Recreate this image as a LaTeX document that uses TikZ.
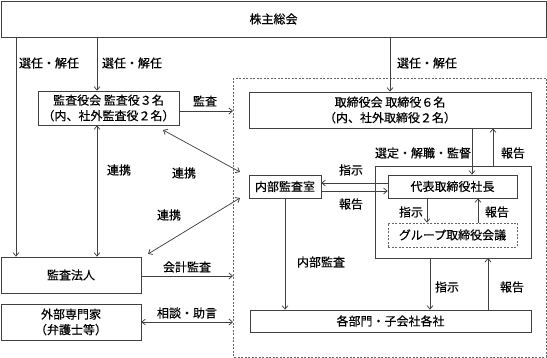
\documentclass[tikz,border=0pt]{standalone}
\usepackage{fontspec}
\setmainfont[FakeBold=0.35]{Noto Sans CJK JP}
\usetikzlibrary{arrows.meta}
\newcommand\fsz{\fontsize{12}{15.5}\selectfont}
\begin{document}
\begin{tikzpicture}[x=1pt,y=-1pt,
  lc/.style={draw=black!75, line width=0.75pt},
  box/.style={lc, align=center, inner sep=0pt, font=\fsz},
  dbox/.style={draw=black!60, line width=0.75pt, dash pattern=on 2pt off 1.5pt},
  lbl/.style={inner sep=0pt, font=\fsz},
  arr/.style={lc, -{Straight Barb[length=3.5pt,width=6pt]}},
  darr/.style={lc, {Straight Barb[length=3.5pt,width=6pt]}-{Straight Barb[length=3.5pt,width=6pt]}}]
\useasboundingbox (0,0) rectangle (547,358);
% outer dotted frame
\draw[dbox] (233,78) rectangle (546,357);
% boxes
\node[box, minimum width=545, minimum height=36] (kabu) at (273.5,19) {株主総会};
\node[box, minimum width=141, minimum height=34] (kansa) at (108.5,108) {監査役会\ 監査役３名\\（内、社外監査役２名）};
\node[box, minimum width=282, minimum height=36] (tori) at (390,110) {取締役会\ 取締役６名\\（内、社外取締役２名）};
\draw[lc] (375,166) rectangle (531,258);
\coordinate (bigtop) at (493,166);
\coordinate (bigbot) at (430,258);
\coordinate (bigbot2) at (488,258);
\node[box, minimum width=72, minimum height=23] (naibu) at (285,186.5) {内部監査室};
\node[box, minimum width=129, minimum height=23] (daihyo) at (452.5,186.5) {代表取締役社長};
\node[box, dbox, minimum width=129, minimum height=24] (group) at (452.5,235) {グループ取締役会議};
\node[box, minimum width=281, minimum height=22] (kakubu) at (390.5,321) {各部門・子会社各社};
\node[box, minimum width=140, minimum height=36] (hojin) at (71,275) {監査法人};
\node[box, minimum width=140, minimum height=36] (gaibu) at (71,322) {外部専門家\\（弁護士等）};
% helper coordinates
\coordinate (x16) at (16,0);
\coordinate (x97) at (97,0);
\coordinate (x472) at (472,0);
\coordinate (x427) at (427,0);
\coordinate (x478) at (478,0);
\coordinate (y183) at (0,183);
\coordinate (y191) at (0,191);
\coordinate (fL1) at (233,111);
\coordinate (fL2) at (233,276);
\coordinate (fL3) at (233,322);
\coordinate (d1a) at (163,130);
\coordinate (d1b) at (240,172);
\coordinate (d2a) at (148,254);
\coordinate (d2b) at (240,198);
% connectors
\draw[arr] (kabu.south -| x16) -- (hojin.north -| x16);
\draw[arr] (kabu.south -| x97) -- (kansa.north -| x97);
\draw[arr] (kabu.south -| tori.north) -- (tori.north);
\draw[darr] (kansa.south -| x97) -- (hojin.north -| x97);
\draw[arr] (kansa.east |- fL1) -- (fL1);
\draw[arr] (hojin.east |- fL2) -- (fL2);
\draw[darr] (gaibu.east |- fL3) -- (fL3);
\draw[darr] (d1a) -- (d1b);
\draw[darr] (d2a) -- (d2b);
\draw[arr] (tori.south -| x472) -- (daihyo.north -| x472);
\draw[arr] (bigtop) -- (tori.south -| bigtop);
\draw[arr] (daihyo.west |- y183) -- (naibu.east |- y183);
\draw[arr] (naibu.east |- y191) -- (daihyo.west |- y191);
\draw[arr] (daihyo.south -| x427) -- (group.north -| x427);
\draw[arr] (group.north -| x478) -- (daihyo.south -| x478);
\draw[arr] (naibu.south) -- (kakubu.north -| naibu.south);
\draw[arr] (bigbot) -- (kakubu.north -| bigbot);
\draw[arr] (kakubu.north -| bigbot2) -- (bigbot2);
% labels
\node[lbl] (t1) at (49,63) {選任・解任};
\node[lbl] (t2) at (132,63) {選任・解任};
\node[lbl] (t3) at (427,63) {選任・解任};
\node[lbl] (t4) at (205,101) {監査};
\node[lbl] (t5) at (119,170) {連携};
\node[lbl] (t6) at (184,173) {連携};
\node[lbl] (t7) at (169,215) {連携};
\node[lbl] (t8) at (187,267) {会計監査};
\node[lbl] (t9) at (187,313) {相談・助言};
\node[lbl] (t10) at (423,153) {選定・解職・監督};
\node[lbl] (t11) at (513,153) {報告};
\node[lbl] (t12) at (351,170) {指示};
\node[lbl] (t13) at (351,204) {報告};
\node[lbl] (t14) at (411,212) {指示};
\node[lbl] (t15) at (497,212) {報告};
\node[lbl] (t16) at (321,262) {内部監査};
\node[lbl] (t17) at (447,287) {指示};
\node[lbl] (t18) at (512,287) {報告};
\end{tikzpicture}
\end{document}
